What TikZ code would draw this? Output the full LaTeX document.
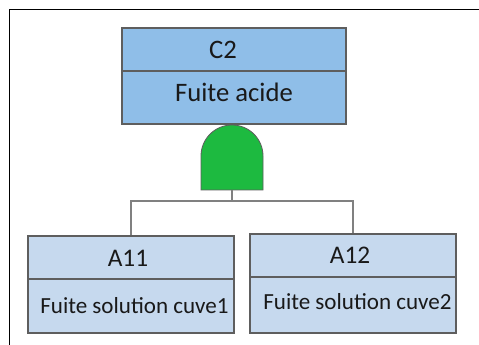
\documentclass[tikz,border=0pt]{standalone}
\usepackage{fontspec}
\setmainfont{Carlito}
\definecolor{topfill}{HTML}{8FBEE8}
\definecolor{lowfill}{HTML}{C6D9EE}
\definecolor{boxline}{HTML}{5E5E5E}
\definecolor{gatefill}{HTML}{1DBA40}
\definecolor{wire}{HTML}{808080}
\begin{document}
\begin{tikzpicture}[x=0.75pt,y=-0.75pt,
  box/.style={draw=boxline,line width=1.3pt,inner sep=0pt,anchor=north west},
  topbox/.style={box,fill=topfill},
  lowbox/.style={box,fill=lowfill},
  divider/.style={draw=boxline,line width=1.2pt},
  wireline/.style={draw=wire,line width=1.3pt},
  lbl/.style={inner sep=0pt,text=black!90}]
\useasboundingbox (0,0) rectangle (479,345);
\fill[white] (0,0) rectangle (479,345);
% outer frame (left and top edges only)
\draw[line width=1.3pt] (9.5,345) -- (9.5,9.5) -- (479,9.5);
% top event
\node[topbox,minimum width=224*0.75pt,minimum height=96*0.75pt] (c2) at (121,27) {};
\draw[divider] (121,71) -- (345,71);
\node[lbl,font=\fontsize{20}{20}\selectfont] (c2id) at (223,50) {C2};
\node[lbl,font=\fontsize{20}{20}\selectfont] (c2txt) at (234,92) {Fuite acide};
% basic events
\node[lowbox,minimum width=206*0.75pt,minimum height=97*0.75pt] (a11) at (27,235) {};
\draw[divider] (27,279) -- (233,279);
\node[lbl,font=\fontsize{19}{19}\selectfont] (a11id) at (128,258) {A11};
\node[lbl,font=\fontsize{17.3}{17.3}\selectfont] (a11txt) at (134.5,306) {Fuite solution cuve1};
\node[lowbox,minimum width=206*0.75pt,minimum height=99*0.75pt] (a12) at (249,233) {};
\draw[divider] (249,277) -- (455,277);
\node[lbl,font=\fontsize{19}{19}\selectfont] (a12id) at (350,255) {A12};
\node[lbl,font=\fontsize{17.3}{17.3}\selectfont] (a12txt) at (357.5,302) {Fuite solution cuve2};
% AND gate
\coordinate (gtop) at (232,125);
\coordinate (gbot) at (232,190);
\draw[divider] (c2.south -| gtop) -- (gtop);
\draw[draw=boxline,line width=0.6pt,fill=gatefill]
  (201,190) -- (201,156) arc[start angle=180,end angle=360,x radius=31,y radius=31] -- (263,190) -- cycle;
% connectors
\coordinate (junc) at (232,201);
\draw[wireline] (gbot) -- (junc);
\draw[wireline] (junc) -| (a11.north);
\draw[wireline] (junc) -| (a12.north);
\end{tikzpicture}
\end{document}
